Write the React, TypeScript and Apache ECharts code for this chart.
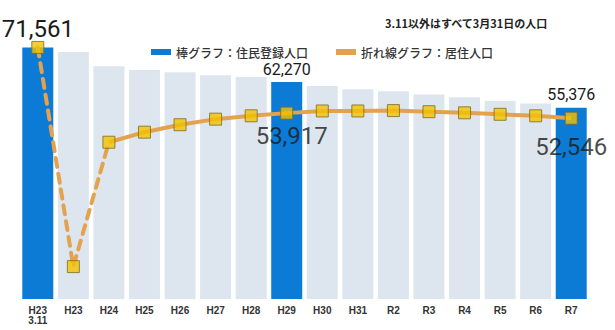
import React, { useEffect, useRef } from "react";
import * as echarts from "echarts";

// 年度ラベル（最初の項目は震災当日）
const categories = ["H23\n3.11", "H23", "H24", "H25", "H26", "H27", "H28", "H29", "H30", "H31", "R2", "R3", "R4", "R5", "R6", "R7"];

// 住民登録人口（棒グラフ）
const registered = [71561, 70300, 66500, 65500, 64900, 64100, 63600, 62270, 61200, 60300, 59800, 58900, 58200, 57200, 56500, 55376];

// 居住人口（折れ線グラフ）
const resident = [71561, 12700, 46100, 48800, 50800, 52300, 53200, 53917, 54500, 54500, 54600, 54300, 54000, 53600, 53200, 52546];

// 強調表示する棒（青色）のインデックス
const highlightBars = [0, 7, 15];

const BAR_NAME = "棒グラフ：住民登録人口";
const LINE_NAME = "折れ線グラフ：居住人口";

const BLUE = "#0b7bd6";
const PALE = "#dde6ee";
const ORANGE = "#e4a24f";
const NUM_FONT = "Roboto, sans-serif";
const JP_FONT = "'Noto Sans CJK JP', sans-serif";

const fmt = (p: any) => Number(p.value).toLocaleString("en-US");

export default function App() {
  const ref = useRef<HTMLDivElement>(null);

  useEffect(() => {
    if (!ref.current) return;
    const chart = echarts.init(ref.current, undefined, { renderer: "svg" });

    const barData = registered.map((v, i) => {
      const hi = highlightBars.includes(i);
      const item: any = { value: v, itemStyle: { color: hi ? BLUE : PALE } };
      if (i === 0) {
        item.label = { show: true, position: "top", distance: 6, fontSize: 24, color: "#1a1a1a", fontFamily: NUM_FONT, formatter: fmt };
      } else if (i === 7 || i === 15) {
        item.label = { show: true, position: "top", distance: 5, fontSize: 16, color: "#1a1a1a", fontFamily: NUM_FONT, formatter: fmt };
      }
      return item;
    });

    // 震災直後の区間は破線、以降は実線
    const dashedPart = resident.map((v, i) => (i <= 2 ? v : null));
    const solidPart = resident.map((v, i) => (i >= 2 ? v : null));

    const markerData = resident.map((v, i) => {
      const item: any = { value: v };
      if (i === 7) {
        item.label = { show: true, position: "bottom", distance: 4, offset: [5, 0], fontSize: 24, color: "#1a1a1a", fontFamily: NUM_FONT, formatter: fmt };
      } else if (i === 15) {
        item.label = { show: true, position: "bottom", distance: 10, offset: [0, 0], fontSize: 24, color: "#1a1a1a", fontFamily: NUM_FONT, formatter: fmt };
      }
      return item;
    });

    chart.setOption({
      animation: false,
      backgroundColor: "#ffffff",
      title: {
        text: "3.11以外はすべて3月31日の人口",
        left: 380,
        top: 12,
        textStyle: { fontSize: 11, fontWeight: "bold", color: "#222", fontFamily: JP_FONT },
      },
      legend: {
        left: 146,
        top: 41,
        itemWidth: 20,
        itemHeight: 6,
        itemGap: 28,
        textStyle: { fontSize: 12, color: "#333", fontFamily: JP_FONT, fontWeight: 500 },
        data: [
          { name: BAR_NAME, icon: "rect", itemStyle: { color: BLUE } },
          { name: LINE_NAME, icon: "rect", itemStyle: { color: ORANGE } },
        ],
      },
      grid: { left: 20, right: 26, top: 16, bottom: 31 },
      xAxis: {
        type: "category",
        data: categories,
        axisLine: { show: false },
        axisTick: { show: false },
        axisLabel: {
          interval: 0,
          margin: 6,
          fontSize: 10,
          lineHeight: 10,
          fontWeight: "bold",
          color: "#333",
          fontFamily: "'Liberation Sans', Arial, sans-serif",
        },
      },
      yAxis: {
        type: "value",
        min: 4000,
        max: 80000,
        show: false,
        splitLine: { show: false },
      },
      series: [
        {
          name: BAR_NAME,
          type: "bar",
          barWidth: 31,
          itemStyle: { color: BLUE },
          data: barData,
          z: 1,
        },
        {
          name: LINE_NAME + "（破線）",
          type: "line",
          data: dashedPart,
          showSymbol: false,
          symbol: "none",
          lineStyle: { color: ORANGE, width: 4, type: [9, 7], cap: "round" },
          itemStyle: { color: ORANGE },
          z: 2,
        },
        {
          name: LINE_NAME,
          type: "line",
          data: solidPart,
          showSymbol: false,
          symbol: "none",
          lineStyle: { color: ORANGE, width: 4 },
          itemStyle: { color: ORANGE },
          z: 2,
        },
        {
          name: LINE_NAME + "（点）",
          type: "scatter",
          data: markerData,
          symbol: "rect",
          symbolSize: 12,
          itemStyle: { color: "#f2c200", borderColor: "#7d6a22", borderWidth: 1 },
          z: 3,
        },
      ],
    });

    return () => chart.dispose();
  }, []);

  return (
    <div
      ref={ref}
      style={{ position: "fixed", left: 0, top: 0, width: 615, height: 330, background: "#fff" }}
    />
  );
}
